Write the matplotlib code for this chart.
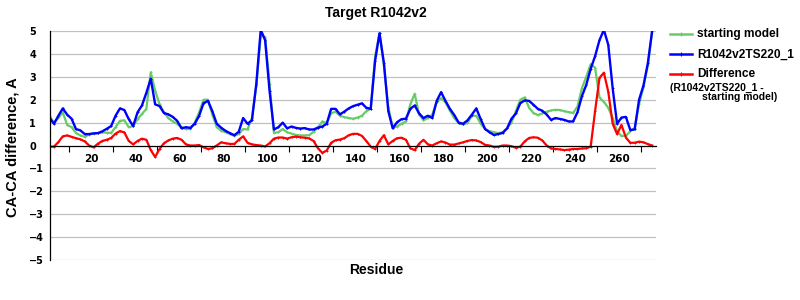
import matplotlib
matplotlib.use("Agg")
import matplotlib.pyplot as plt
from matplotlib.lines import Line2D

# ---------------- data ----------------
residues = list(range(1, 276, 2))

starting_model = [
    1.28, 1.0, 1.2, 1.45, 0.9, 0.8, 0.55, 0.44, 0.38, 0.48,
    0.52, 0.55, 0.57, 0.56, 0.55, 0.8, 1.08, 1.1, 0.8, 0.85,
    1.15, 1.38, 1.6, 3.2, 2.4, 1.8, 1.45, 1.2, 1.05, 0.95,
    0.8, 0.72, 0.72, 1.0, 1.45, 2.0, 2.0, 1.35, 0.8, 0.65,
    0.58, 0.5, 0.42, 0.5, 0.72, 0.7, 1.2, 2.6, 4.8, 4.74,
    2.7, 0.55, 0.58, 0.72, 0.58, 0.52, 0.46, 0.44, 0.44, 0.45,
    0.6, 0.78, 1.05, 0.98, 1.4, 1.48, 1.3, 1.24, 1.2, 1.17,
    1.22, 1.3, 1.5, 1.6, 3.9, 4.9, 3.5, 1.68, 0.8, 0.83,
    0.95, 1.05, 1.8, 2.26, 1.35, 1.1, 1.2, 1.35, 1.9, 2.07,
    1.88, 1.52, 1.2, 0.97, 0.92, 0.98, 1.3, 1.3, 0.95, 0.72,
    0.63, 0.58, 0.54, 0.58, 0.75, 1.0, 1.5, 2.0, 2.1, 1.65,
    1.42, 1.33, 1.4, 1.48, 1.53, 1.56, 1.55, 1.5, 1.46, 1.42,
    1.7, 2.5, 3.0, 3.55, 3.4, 2.1, 1.9, 1.65, 1.2, 0.62,
    0.42, 0.42, 0.62, 0.75, 1.8, 2.55, 3.5, 5.0,
]

model_ts220 = [
    1.2, 0.95, 1.3, 1.62, 1.35, 1.17, 0.72, 0.66, 0.5, 0.5,
    0.53, 0.54, 0.62, 0.73, 0.85, 1.3, 1.62, 1.55, 1.15, 0.85,
    1.45, 1.75, 2.3, 2.92, 1.8, 1.72, 1.42, 1.36, 1.25, 1.08,
    0.75, 0.8, 0.77, 0.95, 1.3, 1.85, 1.95, 1.5, 0.95, 0.78,
    0.64, 0.54, 0.45, 0.6, 1.2, 0.95, 1.1, 2.7, 5.05, 4.6,
    2.4, 0.7, 0.8, 1.0, 0.75, 0.83, 0.77, 0.74, 0.76, 0.7,
    0.7, 0.78, 0.83, 0.95, 1.6, 1.6, 1.36, 1.48, 1.62, 1.72,
    1.78, 1.84, 1.65, 1.6, 3.7, 4.9, 3.6, 1.5, 0.75, 1.02,
    1.15, 1.17, 1.6, 1.75, 1.4, 1.2, 1.3, 1.2, 1.95, 2.33,
    1.95, 1.6, 1.33, 1.0, 0.95, 1.1, 1.35, 1.62, 1.15, 0.72,
    0.58, 0.46, 0.5, 0.55, 0.75, 1.17, 1.4, 1.85, 1.97, 1.95,
    1.78, 1.6, 1.52, 1.35, 1.12, 1.2, 1.16, 1.12, 1.05, 1.05,
    1.45, 2.15, 2.65, 3.35, 3.9, 4.6, 5.05, 4.4, 2.5, 0.95,
    1.22, 1.25, 0.68, 0.7, 2.0, 2.62, 3.6, 5.05,
]

difference = [
    -0.05, -0.05, 0.15, 0.4, 0.44, 0.38, 0.32, 0.27, 0.18, 0.0,
    -0.08, 0.08, 0.2, 0.25, 0.33, 0.52, 0.63, 0.57, 0.2, 0.05,
    0.2, 0.3, 0.25, -0.2, -0.5, -0.15, 0.1, 0.22, 0.3, 0.33,
    0.25, 0.05, 0.0, 0.0, 0.02, -0.08, -0.15, -0.12, 0.0, 0.14,
    0.1, 0.07, 0.07, 0.25, 0.4, 0.12, 0.05, 0.02, 0.0, -0.04,
    0.1, 0.3, 0.35, 0.35, 0.3, 0.36, 0.39, 0.36, 0.34, 0.31,
    0.2, -0.12, -0.32, -0.22, 0.12, 0.23, 0.26, 0.32, 0.45, 0.51,
    0.51, 0.42, 0.2, -0.05, -0.15, 0.2, 0.45, 0.05, 0.2, 0.32,
    0.34, 0.25, -0.12, -0.2, 0.08, 0.25, 0.05, 0.0, 0.1, 0.18,
    0.13, 0.04, 0.04, 0.09, 0.14, 0.2, 0.24, 0.22, 0.15, 0.03,
    0.0, -0.06, -0.05, 0.0, 0.0, -0.03, -0.1, -0.05, 0.18, 0.33,
    0.36, 0.34, 0.22, 0.0, -0.13, -0.15, -0.17, -0.2, -0.18, -0.15,
    -0.15, -0.13, -0.12, -0.05, 1.5, 2.95, 3.18, 2.35, 0.95, 0.5,
    0.9, 0.35, 0.12, 0.12, 0.17, 0.14, 0.06, 0.0,
]

series_names = ["starting model", "R1042v2TS220_1", "Difference"]
x_tick_values = list(range(20, 261, 20))
x_minor_ticks = list(range(10, 271, 20))
y_tick_values = list(range(-5, 6))

title = "Target R1042v2"
x_label = "Residue"
y_label = "CA-CA difference, A"
diff_note_1 = "(R1042v2TS220_1 -"
diff_note_2 = "starting model)"

# ---------------- style ----------------
GREEN = "#66CC66"
BLUE = "#0000FF"
RED = "#FF0000"
SANS = ["Liberation Sans", "DejaVu Sans"]

fig = plt.figure(figsize=(8, 3), dpi=100)
ax = fig.add_axes([0.0625, 0.1333, 0.7575, 0.7633])

ax.plot(residues, starting_model, color=GREEN, lw=1.6, marker="+", ms=2, mew=0.7)
ax.plot(residues, model_ts220, color=BLUE, lw=1.7, marker="+", ms=2, mew=0.7)
ax.plot(residues, difference, color=RED, lw=1.6, marker="+", ms=2, mew=0.7)

ax.set_xlim(1.2, 276.7)
ax.set_ylim(-5, 5)

ax.set_yticks(y_tick_values)
for v in y_tick_values:
    if v != 0:
        ax.axhline(v, color="#C0C0C0", lw=0.9, zorder=0)

ax.spines["top"].set_visible(False)
ax.spines["right"].set_visible(False)
ax.spines["bottom"].set_position(("data", 0))
ax.spines["bottom"].set_color("black")
ax.spines["bottom"].set_linewidth(0.9)
ax.spines["left"].set_linewidth(0.9)

ax.set_xticks(x_tick_values)
ax.set_xticks(x_minor_ticks, minor=True)
ax.tick_params(axis="x", which="major", length=0, pad=6, labelsize=7.5)
ax.tick_params(axis="x", which="minor", length=4, width=0.8, direction="out")
for lab in ax.get_xticklabels():
    lab.set_fontweight("bold")

ax.tick_params(axis="y", length=0, pad=15, labelsize=7)
for lab in ax.get_yticklabels():
    lab.set_fontweight("bold")
    lab.set_horizontalalignment("left")

# titles / labels
fig.text(0.47, 0.955, title, ha="center", va="center", fontsize=10,
         fontweight="bold", family=SANS)
fig.text(0.47, 0.1, x_label, ha="center", va="center", fontsize=10,
         fontweight="bold", family=SANS)
fig.text(0.016, 0.51, y_label, ha="center", va="center", rotation=90,
         fontsize=10.5, fontweight="bold", family=SANS)

# legend drawn in pixel coordinates
ov = fig.add_axes([0, 0, 1, 1], facecolor="none")
ov.set_xlim(0, 800)
ov.set_ylim(300, 0)
ov.axis("off")
for name, col, y in zip(series_names, [GREEN, BLUE, RED], [34.3, 54.3, 74.0]):
    ov.add_line(Line2D([670, 692], [y, y], color=col, lw=1.8))
    ov.add_line(Line2D([681], [y], color=col, marker="+", ms=3, mew=0.8))
    ov.text(697, y, name, ha="left", va="center", fontsize=8.6,
            fontweight="bold", family=SANS)
ov.text(670, 87.5, diff_note_1, ha="left", va="center", fontsize=7.5,
        fontweight="bold", family=SANS)
ov.text(702, 97.5, diff_note_2, ha="left", va="center", fontsize=7.5,
        fontweight="bold", family=SANS)

fig.savefig("out.png", dpi=100)
